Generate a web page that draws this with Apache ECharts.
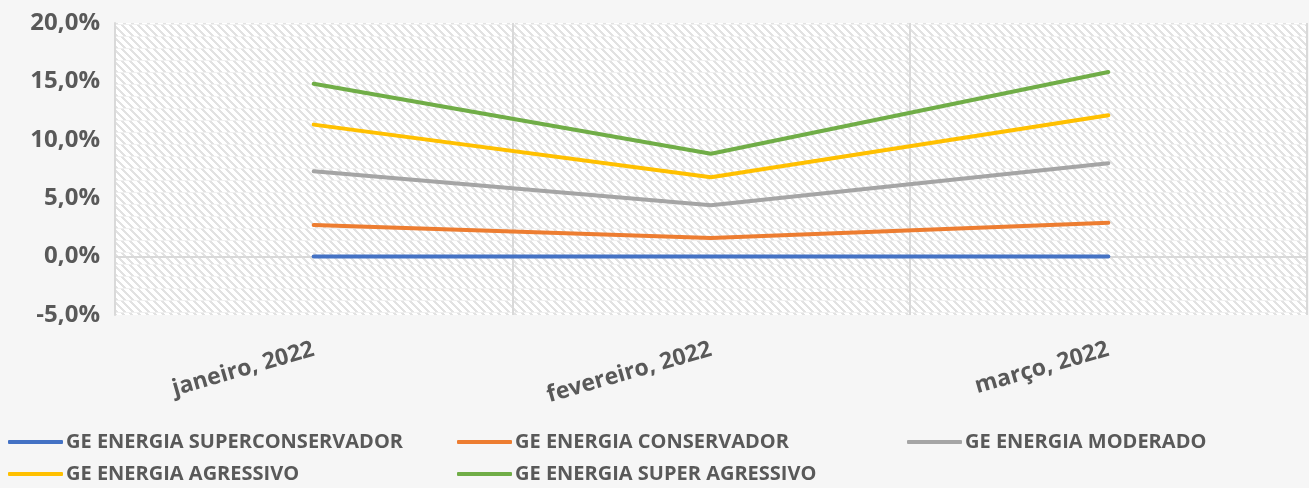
<!DOCTYPE html>
<html>
<head>
<meta charset="utf-8">
<script src="https://cdn.jsdelivr.net/npm/echarts@6/dist/echarts.min.js"></script>
<style>
  html, body { margin: 0; padding: 0; background: #f6f6f6; }
  #chart { width: 1309px; height: 488px; }
</style>
</head>
<body>
<div id="chart"></div>
<script>
// dados (rentabilidade acumulada, %)
var categories = ['janeiro, 2022', 'fevereiro, 2022', 'março, 2022'];
var seriesNames = [
  'GE ENERGIA SUPERCONSERVADOR',
  'GE ENERGIA CONSERVADOR',
  'GE ENERGIA MODERADO',
  'GE ENERGIA AGRESSIVO',
  'GE ENERGIA SUPER AGRESSIVO'
];
var superConservador = [0.0, 0.0, 0.0];
var conservador = [2.7, 1.6, 2.9];
var moderado = [7.3, 4.4, 8.0];
var agressivo = [11.3, 6.8, 12.1];
var superAgressivo = [14.8, 8.8, 15.8];
var yTicks = [-5, 0, 5, 10, 15, 20];

var colors = ['#4472C4', '#ED7D31', '#A5A5A5', '#FFC000', '#70AD47'];
var values = [superConservador, conservador, moderado, agressivo, superAgressivo];

// fundo hachurado da área do gráfico
function makeHatch() {
  var c = document.createElement('canvas');
  c.width = 8; c.height = 12;
  var ctx = c.getContext('2d');
  var img = ctx.createImageData(8, 12);
  for (var y = 0; y < 12; y++) {
    for (var x = 0; x < 8; x++) {
      var v = 255;
      if (y === 0) v = 240;
      else if (((x - y) % 8 + 8) % 8 < 3) v = 226;
      var i = (y * 8 + x) * 4;
      img.data[i] = v; img.data[i + 1] = v; img.data[i + 2] = v; img.data[i + 3] = 255;
    }
  }
  ctx.putImageData(img, 0, 0);
  return c;
}

var myChart = echarts.init(document.getElementById('chart'));

var labelFont = '"Open Sans", "Noto Sans", sans-serif';

var series = seriesNames.map(function (name, i) {
  var s = {
    name: name,
    type: 'line',
    data: values[i],
    showSymbol: false,
    symbol: 'none',
    lineStyle: { color: colors[i], width: 4, cap: 'round', join: 'round' },
    itemStyle: { color: colors[i] },
    z: 3 + i
  };
  if (i === 0) {
    // linha do zero
    s.markLine = {
      silent: true,
      symbol: 'none',
      label: { show: false },
      lineStyle: { color: '#d9d9d9', width: 2, type: 'solid' },
      data: [{ yAxis: 0 }],
      z: 1
    };
  }
  return s;
});

// uma legenda por item para fixar as colunas
var legendPos = [
  { left: 8, top: 432 },
  { left: 457, top: 432 },
  { left: 907, top: 432 },
  { left: 8, top: 464 },
  { left: 457, top: 464 }
];
var legends = seriesNames.map(function (name, i) {
  return {
    data: [name],
    left: legendPos[i].left,
    top: legendPos[i].top,
    padding: 0,
    icon: 'roundRect',
    itemWidth: 55,
    itemHeight: 4,
    itemGap: 0,
    selectedMode: false,
    textStyle: {
      color: '#595959',
      fontSize: 20,
      fontWeight: 'bold',
      fontFamily: labelFont,
      padding: [0, 0, 0, -2]
    }
  };
});

var option = {
  backgroundColor: '#f6f6f6',
  color: colors,
  animation: false,
  grid: {
    left: 115,
    right: 2,
    top: 23,
    bottom: 173,
    show: true,
    borderWidth: 0,
    backgroundColor: { image: makeHatch(), repeat: 'repeat' }
  },
  legend: legends,
  xAxis: {
    type: 'category',
    data: categories,
    boundaryGap: true,
    axisLine: { show: false, onZero: false },
    axisTick: { show: false },
    splitLine: { show: true, lineStyle: { color: '#d9d9d9', width: 2 } },
    axisLabel: {
      rotate: 16,
      margin: 34,
      color: '#595959',
      fontSize: 23,
      fontWeight: 'bold',
      fontFamily: labelFont
    }
  },
  yAxis: {
    type: 'value',
    min: yTicks[0],
    max: yTicks[yTicks.length - 1],
    interval: 5,
    axisLine: { show: true, lineStyle: { color: '#d9d9d9', width: 2 } },
    axisTick: { show: false },
    splitLine: { show: false },
    axisLabel: {
      margin: 15,
      color: '#595959',
      fontSize: 24,
      fontWeight: 'bold',
      fontFamily: labelFont,
      formatter: function (value) {
        return value.toFixed(1).replace('.', ',') + '%';
      }
    }
  },
  series: series
};

myChart.setOption(option);
</script>
</body>
</html>
